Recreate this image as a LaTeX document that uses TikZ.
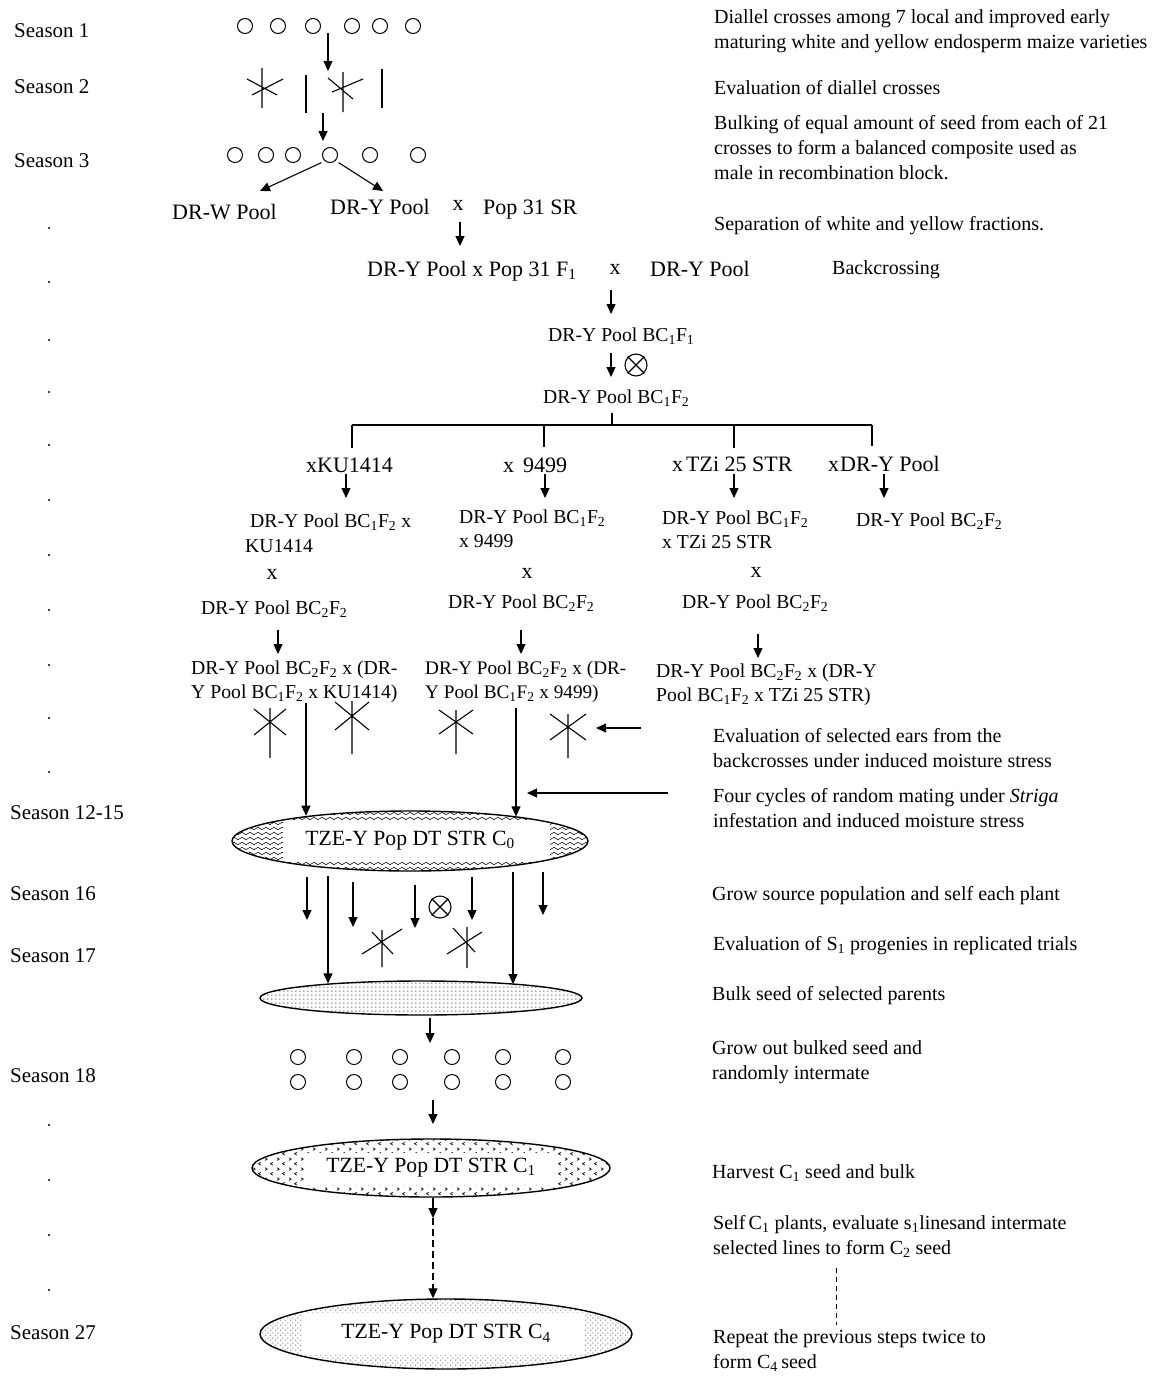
\documentclass[tikz,border=0pt]{standalone}
\usepackage{fontspec}
\setmainfont{Liberation Serif}
\usetikzlibrary{arrows.meta,patterns,calc,shapes.geometric}
\pgfdeclarepatternformonly{wavyp}{\pgfqpoint{-1pt}{-1pt}}{\pgfqpoint{9pt}{6pt}}{\pgfqpoint{8pt}{5pt}}{%
 \pgfsetlinewidth{0.55pt}%
 \pgfpathmoveto{\pgfqpoint{0pt}{2.5pt}}%
 \pgfpathcurveto{\pgfqpoint{1.3pt}{4pt}}{\pgfqpoint{2.7pt}{4pt}}{\pgfqpoint{4pt}{2.5pt}}%
 \pgfpathcurveto{\pgfqpoint{5.3pt}{1pt}}{\pgfqpoint{6.7pt}{1pt}}{\pgfqpoint{8pt}{2.5pt}}%
 \pgfusepath{stroke}}
\pgfdeclarepatternformonly{chevp}{\pgfqpoint{0pt}{0pt}}{\pgfqpoint{12pt}{10pt}}{\pgfqpoint{12pt}{10pt}}{%
 \pgfsetlinewidth{0.7pt}%
 \pgfpathmoveto{\pgfqpoint{1pt}{9pt}}\pgfpathlineto{\pgfqpoint{3.5pt}{7.5pt}}\pgfpathlineto{\pgfqpoint{1pt}{6pt}}%
 \pgfpathmoveto{\pgfqpoint{9.5pt}{4pt}}\pgfpathlineto{\pgfqpoint{7pt}{2.5pt}}\pgfpathlineto{\pgfqpoint{9.5pt}{1pt}}%
 \pgfusepath{stroke}}
\pgfdeclarepatternformonly{densedots}{\pgfqpoint{0pt}{0pt}}{\pgfqpoint{3.5pt}{3.5pt}}{\pgfqpoint{3.5pt}{3.5pt}}{%
 \pgfpathcircle{\pgfqpoint{1pt}{1pt}}{0.65pt}\pgfusepath{fill}}
\pgfdeclarepatternformonly{sparsedots}{\pgfqpoint{0pt}{0pt}}{\pgfqpoint{5pt}{5pt}}{\pgfqpoint{5pt}{5pt}}{%
 \pgfpathcircle{\pgfqpoint{1pt}{1pt}}{0.6pt}\pgfpathcircle{\pgfqpoint{3.5pt}{3.5pt}}{0.6pt}\pgfusepath{fill}}
\begin{document}
\begin{tikzpicture}[x=1pt,y=-1pt,
  dt/.style={font=\fontsize{19.7}{24}\selectfont, inner sep=0pt, execute at begin node=\strut},
  dtl/.style={font=\fontsize{22}{24}\selectfont, inner sep=0pt, execute at begin node=\strut},
  rt/.style={font=\fontsize{20}{25}\selectfont, inner sep=0pt, anchor=north west, align=left, execute at begin node=\strut},
  st/.style={font=\fontsize{21}{24}\selectfont, inner sep=0pt, anchor=west, execute at begin node=\strut},
  arr/.style={-{Triangle[length=10pt,width=9pt]}, line width=1.1pt},
  ln/.style={line width=1.1pt},
  seed/.style={circle, draw, line width=1pt, minimum size=15pt, inner sep=0pt},
  pool/.style={ellipse, draw, line width=1.4pt, inner sep=0pt, font=\fontsize{21.7}{24}\selectfont},
  sdot/.style={circle, fill, inner sep=0pt, minimum size=2.4pt},
]
\fill[white] (0,0) rectangle (1154,1376);
\useasboundingbox (0,0) rectangle (1154,1376);

% ---------- season labels ----------
\node[st] (se1) at (14,32.5) {Season 1};
\node[st] (se2) at (14,88.5) {Season 2};
\node[st] (se3) at (14,162.5) {Season 3};
\node[st] (se12) at (10,814.5) {Season 12-15};
\node[st] (se16) at (10,895.5) {Season 16};
\node[st] (se17) at (10,957.5) {Season 17};
\node[st] (se18) at (10,1077.5) {Season 18};
\node[st] (se27) at (10,1334.5) {Season 27};
\foreach \y [count=\i] in {228,282,340,392,445,500,555,610,665,718,772,1125,1180,1235,1290}
  \node[sdot] (dot\i) at (49,\y) {};

% ---------- right column texts ----------
\node[rt] (r1) at (714,9) {Diallel crosses among 7 local and improved early\\maturing white and yellow endosperm maize varieties};
\node[rt] (r2) at (714,77) {Evaluation of diallel crosses};
\node[rt] (r3) at (714,115) {Bulking of equal amount of seed from each of 21\\crosses to form a balanced composite used as\\male in recombination block.};
\node[rt] (r4) at (714,213) {Separation of white and yellow fractions.};
\node[rt] (r5) at (832,257) {Backcrossing};
\node[rt] (r6) at (713,728) {Evaluation of selected ears from the\\backcrosses under induced moisture stress};
\node[rt] (r7) at (713,788) {Four cycles of random mating under \textit{Striga}\\infestation and induced moisture stress};
\node[rt] (r8) at (712,883) {Grow source population and self each plant};
\node[rt] (r9) at (713,933) {Evaluation of S\textsubscript{1} progenies in replicated trials};
\node[rt] (r10) at (712,983) {Bulk seed of selected parents};
\node[rt] (r11) at (712,1040) {Grow out bulked seed and\\randomly intermate};
\node[rt] (r12) at (712,1161) {Harvest C\textsubscript{1} seed and bulk};
\node[rt] (r13) at (713,1215) {Self\,C\textsubscript{1} plants, evaluate s\textsubscript{1}linesand intermate\\selected lines to form C\textsubscript{2} seed};
\node[rt] (r14) at (713,1329) {Repeat the previous steps twice to\\form C\textsubscript{4}\,seed};
\coordinate (rd1) at (836,1268);
\coordinate (rd2) at (836,1325);
\draw[line width=0.9pt, dash pattern=on 5pt off 4pt] (rd1) -- (rd2);

% ---------- seasons 1-3 ----------
\foreach \x [count=\i] in {245,278,313,352,380,413}
  \node[seed] (sa\i) at (\x,26) {};
\coordinate (a1s) at (328,33); \coordinate (a1e) at (328,71);
\draw[arr] (a1s) -- (a1e);
% plants season 2
\draw[ln] (262,68) -- (262,108) (247,79) -- (277,95) (252,95) -- (283,79);
\draw[ln] (306,75) -- (306,113);
\draw[ln] (343,72) -- (343,112) (328,78) -- (353,99) (332,92) -- (363,79);
\draw[ln] (382,69) -- (382,108);
\coordinate (a2s) at (323,113); \coordinate (a2e) at (323,141);
\draw[arr] (a2s) -- (a2e);
\foreach \x [count=\i] in {235,266,293,330,370,418}
  \node[seed] (sb\i) at (\x,155) {};
\coordinate (a3e) at (260,191); \coordinate (a4e) at (383,191);
\draw[arr] (sb4.south west) ++(-3,2) coordinate (a3s) (a3s) -- (a3e);
\draw[arr] (sb4.south east) ++(3,2) coordinate (a4s) (a4s) -- (a4e);

\node[dtl,anchor=west] (dw) at (172,215) {DR-W Pool};
\node[dtl,anchor=west] (dy) at (330,210) {DR-Y Pool};
\node[dtl] (xa) at (458,206) {x};
\node[dtl,anchor=west] (pop) at (483,210) {Pop 31 SR};
\coordinate (a5s) at (460,222); \coordinate (a5e) at (460,246);
\draw[arr] (a5s) -- (a5e);
\node[dtl,anchor=west] (f1) at (367,272) {DR-Y Pool x Pop 31 F\textsubscript{1}};
\node[dtl] (xb) at (615,270) {x};
\node[dtl,anchor=west] (dy2) at (650,272) {DR-Y Pool};
\coordinate (a6s) at (611,290); \coordinate (a6e) at (611,314);
\draw[arr] (a6s) -- (a6e);
\node[dt,anchor=west] (bc11) at (548,337) {DR-Y Pool BC\textsubscript{1}F\textsubscript{1}};
\coordinate (a7s) at (611,353); \coordinate (a7e) at (611,377);
\draw[arr] (a7s) -- (a7e);
\node[circle, draw, line width=1.1pt, minimum size=22pt, inner sep=0pt] (self1) at (636,365) {};
\draw[ln] (self1.45) -- (self1.225) (self1.135) -- (self1.315);
\node[dt,anchor=west] (bc12) at (543,399) {DR-Y Pool BC\textsubscript{1}F\textsubscript{2}};

% ---------- branching ----------
\coordinate (b0) at (612,413); \coordinate (bc) at (612,425);
\coordinate (bl) at (352,425); \coordinate (bm) at (544,425); \coordinate (bn) at (734,425); \coordinate (br) at (872,425);
\draw[line width=1.3pt] (b0) -- (bc);
\draw[line width=1.3pt] (bl) -- (br);
\draw[line width=1.3pt] (bl) -- ++(0,23) (bm) -- ++(0,22) (bn) -- ++(0,23) (br) -- ++(0,21);

\node[dtl,anchor=west] (k1) at (306,468) {xKU1414};
\node[dtl,anchor=west] (k2) at (503,468) {x\hspace{9pt}9499};
\node[dtl,anchor=west] (k3) at (672,467) {x\hspace{3pt}TZi 25 STR};
\node[dtl,anchor=west] (k4) at (828,467) {x\hspace{1pt}DR-Y Pool};
\foreach \x/\n in {346/1,545/2,734/3,884/4} {
  \coordinate (ks\n) at (\x,474); \coordinate (ke\n) at (\x,498);
  \draw[arr] (ks\n) -- (ke\n);
}
\node[dt,anchor=west] (m1a) at (250,523) {DR-Y Pool BC\textsubscript{1}F\textsubscript{2} x};
\node[dt,anchor=west] (m1b) at (245,548) {KU1414};
\node[dt,anchor=north west,align=left] (m2) at (459,510) {DR-Y Pool BC\textsubscript{1}F\textsubscript{2}\\x 9499};
\node[dt,anchor=north west,align=left] (m3) at (662,511) {DR-Y Pool BC\textsubscript{1}F\textsubscript{2}\\x TZi 25 STR};
\node[dt,anchor=west] (m4) at (856,522) {DR-Y Pool BC\textsubscript{2}F\textsubscript{2}};
\node[dtl] (xc1) at (272,575) {x};
\node[dtl] (xc2) at (527,574) {x};
\node[dtl] (xc3) at (756,573) {x};
\node[dt,anchor=west] (n1) at (201,610) {DR-Y Pool BC\textsubscript{2}F\textsubscript{2}};
\node[dt,anchor=west] (n2) at (448,604) {DR-Y Pool BC\textsubscript{2}F\textsubscript{2}};
\node[dt,anchor=west] (n3) at (682,604) {DR-Y Pool BC\textsubscript{2}F\textsubscript{2}};
\foreach \x/\n/\y in {278/1/630,521/2/630,758/3/634} {
  \coordinate (ns\n) at (\x,\y); \coordinate (ne\n) at (\x,\y+24);
  \draw[arr] (ns\n) -- (ne\n);
}
\node[dt,anchor=north west,align=left] (p1) at (191,661) {DR-Y Pool BC\textsubscript{2}F\textsubscript{2} x (DR-\\Y Pool BC\textsubscript{1}F\textsubscript{2} x KU1414)};
\node[dt,anchor=north west,align=left,font=\fontsize{19.2}{24}\selectfont] (p2) at (425,661) {DR-Y Pool BC\textsubscript{2}F\textsubscript{2} x (DR-\\Y Pool BC\textsubscript{1}F\textsubscript{2} x 9499)};
\node[dt,anchor=north west,align=left] (p3) at (656,664) {DR-Y Pool BC\textsubscript{2}F\textsubscript{2} x (DR-Y\\Pool BC\textsubscript{1}F\textsubscript{2} x TZi 25 STR)};

% plants under backcrosses
\draw[ln] (270,708) -- (270,758) (254,709) -- (286,735) (254,735) -- (286,709);
\draw[ln] (352,701) -- (352,754) (335,702) -- (369,730) (335,730) -- (369,702);
\draw[ln] (456,710) -- (456,754) (439,710) -- (473,734) (439,734) -- (473,710);
\draw[ln] (568,714) -- (568,758) (550,714) -- (586,740) (550,740) -- (586,714);
\coordinate (h1s) at (641,728); \coordinate (h1e) at (596,728);
\draw[arr] (h1s) -- (h1e);
\coordinate (h2s) at (668,793); \coordinate (h2e) at (527,793);
\draw[arr] (h2s) -- (h2e);

% ---------- C0 ----------
\node[pool, minimum width=356pt, minimum height=60pt,
  path picture={\fill[pattern=wavyp] (path picture bounding box.south west) rectangle (path picture bounding box.north east);
    \fill[white] ([xshift=-127pt,yshift=20pt]path picture bounding box.center) rectangle ([xshift=140pt,yshift=-21pt]path picture bounding box.center);}]
  (c0) at (410,841) {TZE-Y Pop DT STR C\textsubscript{0}};
\coordinate (l1s) at (306,703); \coordinate (l2s) at (516,708);
\draw[arr] (l1s) -- (l1s |- c0.166.8);
\draw[arr] (l2s) -- (l2s |- c0.13);

% arrows below C0
\foreach \x/\n/\a/\b in {307/1/877/920,353/2/882/927,415/3/885/928,472/4/877/920,543/5/872/915} {
  \coordinate (ds\n) at (\x,\a); \coordinate (de\n) at (\x,\b);
  \draw[arr] (ds\n) -- (de\n);
}
\node[circle, draw, line width=1.1pt, minimum size=22pt, inner sep=0pt] (self2) at (440,907) {};
\draw[ln] (self2.45) -- (self2.225) (self2.135) -- (self2.315);
\draw[ln] (382,930) -- (382,967) (362,954) -- (402,929) (372,932) -- (393,954);
\draw[ln] (467,927) -- (467,968) (447,954) -- (482,932) (453,928) -- (475,952);

% bulk ellipse
\node[pool, minimum width=322pt, minimum height=34pt,
  path picture={\fill[pattern=densedots] (path picture bounding box.south west) rectangle (path picture bounding box.north east);}]
  (bulk) at (421,998) {};
\coordinate (g1s) at (328,876); \coordinate (g2s) at (513,872);
\draw[arr] (g1s) -- (g1s |- bulk.171.5);
\draw[arr] (g2s) -- (g2s |- bulk.8.6);
\coordinate (bs) at (430,1018); \coordinate (be) at (430,1043);
\draw[arr] (bs) -- (be);

% season 18 seeds
\foreach \x [count=\i] in {298,354,400,452,503,563} {
  \node[seed] (ga\i) at (\x,1057) {};
  \node[seed] (gb\i) at (\x,1082) {};
}
\coordinate (es) at (433,1100); \coordinate (ee) at (433,1124);
\draw[arr] (es) -- (ee);

% ---------- C1 ----------
\node[pool, minimum width=358pt, minimum height=58pt,
  path picture={\fill[pattern=chevp] (path picture bounding box.south west) rectangle (path picture bounding box.north east);
    \fill[white] ([xshift=-126pt,yshift=15pt]path picture bounding box.center) rectangle ([xshift=127pt,yshift=-17pt]path picture bounding box.center);}]
  (c1) at (431,1168) {TZE-Y Pop DT STR C\textsubscript{1}};

% ---------- C4 ----------
\node[pool, minimum width=372pt, minimum height=70pt,
  path picture={\fill[pattern=sparsedots] (path picture bounding box.south west) rectangle (path picture bounding box.north east);
    \fill[white] ([xshift=-144pt,yshift=21pt]path picture bounding box.center) rectangle ([xshift=139pt,yshift=-21pt]path picture bounding box.center);}]
  (c4) at (446,1334) {TZE-Y Pop DT STR C\textsubscript{4}};

\coordinate (dm) at (433,1218);
\draw[arr] (c1.south -| dm) -- (dm);
\draw[arr, dash pattern=on 7pt off 4pt] (dm) -- (dm |- c4.north);
\end{tikzpicture}
\end{document}
